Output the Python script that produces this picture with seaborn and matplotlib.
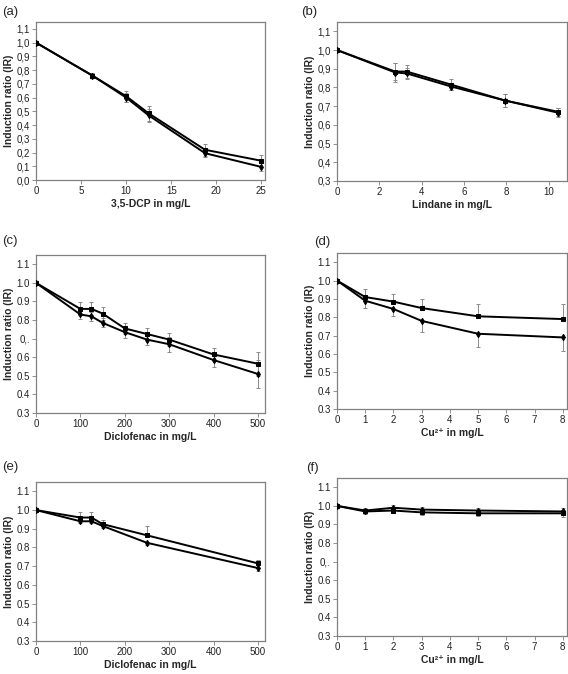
import numpy as np
import pandas as pd
import matplotlib
matplotlib.use("Agg")
import matplotlib.pyplot as plt
import seaborn as sns

sns.set_theme(style="white")
plt.rcParams['font.family'] = ['Liberation Sans', 'DejaVu Sans']

# panel (a) 3,5-DCP
dcp_x = [0, 6.25, 10, 12.5, 18.75, 25]
dcp_sq = [1.0, 0.76, 0.61, 0.485, 0.22, 0.14]
dcp_di = [1.0, 0.76, 0.60, 0.47, 0.195, 0.095]
dcp_sq_err = [0, 0.02, 0.04, 0.055, 0.045, 0.045]
dcp_di_err = [0, 0.02, 0.035, 0.045, 0.03, 0.03]

# panel (b) Lindane
lin_x = [0, 2.75, 3.3, 5.4, 7.95, 10.45]
lin_sq = [1.0, 0.885, 0.885, 0.815, 0.73, 0.67]
lin_di = [1.0, 0.88, 0.875, 0.805, 0.73, 0.665]
lin_sq_err = [0, 0.045, 0.035, 0.03, 0.035, 0.02]
lin_di_err = [0, 0.05, 0.03, 0.02, 0.035, 0.025]

# panel (c) Diclofenac
dic_x = [0, 100, 125, 150, 200, 250, 300, 400, 500]
dic_sq = [1.0, 0.86, 0.86, 0.835, 0.755, 0.725, 0.695, 0.615, 0.565]
dic_di = [1.0, 0.83, 0.82, 0.785, 0.735, 0.695, 0.67, 0.585, 0.51]
dic_sq_err = [0, 0.035, 0.035, 0.035, 0.03, 0.03, 0.035, 0.035, 0.065]
dic_di_err = [0, 0.025, 0.025, 0.025, 0.03, 0.03, 0.04, 0.04, 0.075]

# panel (d) Cu2+
cu_x = [0, 1, 2, 3, 5, 8]
cu_sq = [1.0, 0.91, 0.885, 0.85, 0.805, 0.79]
cu_di = [1.0, 0.89, 0.845, 0.78, 0.71, 0.69]
cu_sq_err = [0, 0.045, 0.04, 0.05, 0.065, 0.08]
cu_di_err = [0, 0.04, 0.04, 0.06, 0.07, 0.075]

# panel (e) Diclofenac
dic2_x = [0, 100, 125, 150, 250, 500]
dic2_sq = [1.0, 0.96, 0.96, 0.925, 0.865, 0.715]
dic2_di = [1.0, 0.94, 0.94, 0.915, 0.825, 0.69]
dic2_sq_err = [0, 0.03, 0.03, 0.02, 0.05, 0.02]
dic2_di_err = [0, 0.01, 0.01, 0.01, 0.01, 0.015]

# panel (f) Cu2+
cu2_x = [0, 1, 2, 3, 5, 8]
cu2_sq = [1.0, 0.97, 0.975, 0.965, 0.96, 0.96]
cu2_di = [1.0, 0.975, 0.99, 0.98, 0.975, 0.97]
cu2_sq_err = [0, 0.012, 0.015, 0.015, 0.015, 0.02]
cu2_di_err = [0, 0.012, 0.015, 0.012, 0.012, 0.02]

W, H = 568, 674
fig = plt.figure(figsize=(W / 100, H / 100), dpi=100)

def px_axes(left, top, right, bottom):
    return fig.add_axes([left / W, 1 - bottom / H, (right - left) / W, (bottom - top) / H])

panels = [
    dict(box=(36, 22, 265, 180), lab="(a)", lab_xy=(2, 12), x=dcp_x, sq=dcp_sq, di=dcp_di,
         sqe=dcp_sq_err, die=dcp_di_err, xlim=(0, 25.4), xt=[0, 5, 10, 15, 20, 25],
         ymin=0.0, xlabel="3,5-DCP in mg/L", comma=True, odd=False, one_sided=False),
    dict(box=(337, 22, 567, 181), lab="(b)", lab_xy=(301, 12), x=lin_x, sq=lin_sq, di=lin_di,
         sqe=lin_sq_err, die=lin_di_err, xlim=(0, 10.87), xt=[0, 2, 4, 6, 8, 10],
         ymin=0.3, xlabel="Lindane in mg/L", comma=True, odd=False, one_sided=False),
    dict(box=(36, 255, 265, 413), lab="(c)", lab_xy=(2, 241), x=dic_x, sq=dic_sq, di=dic_di,
         sqe=dic_sq_err, die=dic_di_err, xlim=(0, 516), xt=[0, 100, 200, 300, 400, 500],
         ymin=0.3, xlabel="Diclofenac in mg/L", comma=False, odd=True, one_sided=False),
    dict(box=(337, 253, 567, 409), lab="(d)", lab_xy=(314, 242), x=cu_x, sq=cu_sq, di=cu_di,
         sqe=cu_sq_err, die=cu_di_err, xlim=(0, 8.15), xt=list(range(9)),
         ymin=0.3, xlabel="Cu²⁺ in mg/L", comma=False, odd=False, one_sided=True),
    dict(box=(36, 482, 265, 641), lab="(e)", lab_xy=(2, 467), x=dic2_x, sq=dic2_sq, di=dic2_di,
         sqe=dic2_sq_err, die=dic2_di_err, xlim=(0, 516), xt=[0, 100, 200, 300, 400, 500],
         ymin=0.3, xlabel="Diclofenac in mg/L", comma=False, odd=False, one_sided=True),
    dict(box=(337, 478, 567, 636), lab="(f)", lab_xy=(306, 468), x=cu2_x, sq=cu2_sq, di=cu2_di,
         sqe=cu2_sq_err, die=cu2_di_err, xlim=(0, 8.15), xt=list(range(9)),
         ymin=0.3, xlabel="Cu²⁺ in mg/L", comma=False, odd=True, one_sided=False),
]

for p in panels:
    ax = px_axes(*p["box"])
    x = np.array(p["x"], dtype=float)
    sq = np.array(p["sq"])
    di = np.array(p["di"])
    sqe = np.array(p["sqe"])
    die = np.array(p["die"])
    if p["one_sided"]:
        sq_yerr = [np.zeros_like(sqe), sqe]
        di_yerr = [die, np.zeros_like(die)]
    else:
        sq_yerr = sqe
        di_yerr = die
    ax.errorbar(x, sq, yerr=sq_yerr, fmt="none", ecolor="#8a8a8a", elinewidth=0.7,
                capsize=1.5, capthick=0.7, zorder=2)
    ax.errorbar(x, di, yerr=di_yerr, fmt="none", ecolor="#8a8a8a", elinewidth=0.7,
                capsize=1.5, capthick=0.7, zorder=2)
    df = pd.DataFrame({"x": np.concatenate([x, x]),
                       "y": np.concatenate([sq, di]),
                       "s": ["sq"] * len(x) + ["di"] * len(x)})
    sns.lineplot(data=df, x="x", y="y", style="s", markers={"sq": "s", "di": "d"},
                 dashes=False, color="black", linewidth=1.4, markersize=3.2,
                 markeredgecolor="black", ax=ax, legend=False, zorder=3)
    ax.set_xlim(*p["xlim"])
    ax.set_ylim(p["ymin"], 1.15)
    ax.set_xticks(p["xt"])
    yt = np.round(np.arange(p["ymin"], 1.101, 0.1), 1)
    ax.set_yticks(yt)
    labels = []
    for v in yt:
        s = f"{v:.1f}"
        if p["comma"]:
            s = s.replace(".", ",")
        if p["odd"] and abs(v - 0.7) < 1e-6:
            s = "0,."
        labels.append(s)
    ax.set_yticklabels(labels)
    ax.tick_params(axis="both", labelsize=7, length=3, width=0.6, color="#808080",
                   direction="out", bottom=True, left=True, pad=1.5, labelcolor="#222222")
    for sp in ax.spines.values():
        sp.set_color("#808080")
        sp.set_linewidth(0.9)
    ax.set_xlabel(p["xlabel"], fontsize=7.5, fontweight="bold", labelpad=2)
    ax.set_ylabel("Induction ratio (IR)", fontsize=7.5, fontweight="bold", labelpad=1.5)
    fig.text(p["lab_xy"][0] / W, 1 - p["lab_xy"][1] / H, p["lab"], fontsize=9.5,
             va="center", ha="left")

fig.savefig("out.png", dpi=100)
